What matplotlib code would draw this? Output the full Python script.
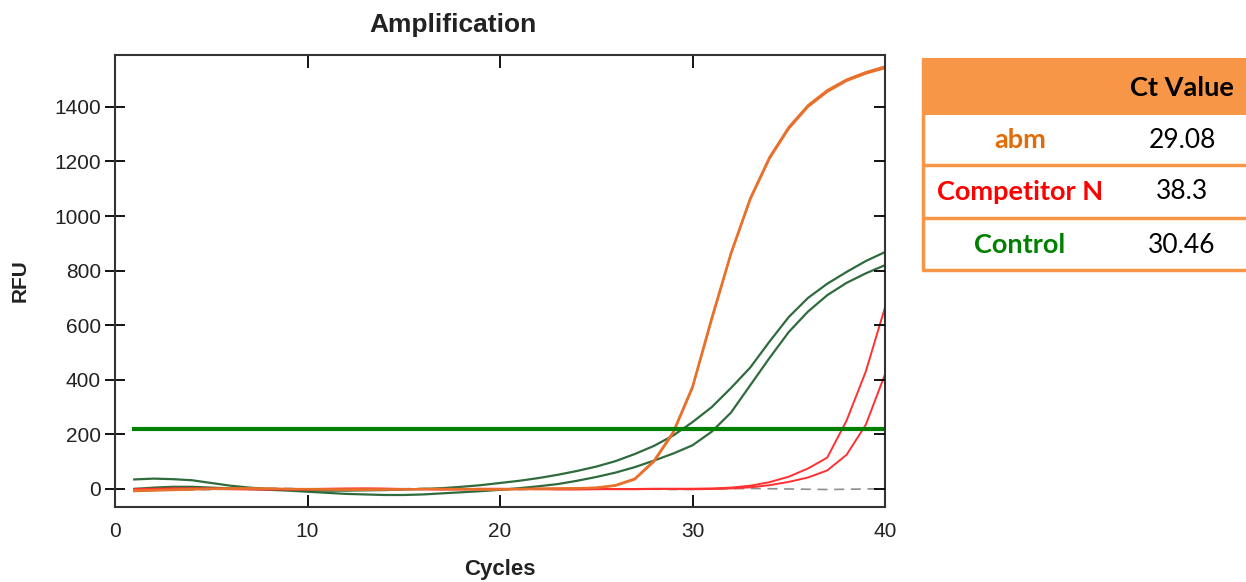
import matplotlib
matplotlib.use('Agg')
import matplotlib.pyplot as plt
from matplotlib.patches import Rectangle
from matplotlib.lines import Line2D

W, H = 1246, 582

cycles = list(range(1, 41))

abm_1 = [-8, -6, -4, -2, 0, 1, 2, 1, 0, -1, -2, -3, -3, -2, -1, 0, 0, -1, -2, -2,
         -1, 0, 1, 2, 4, 12, 35, 100, 205, 370, 620, 860, 1060, 1210, 1320, 1400, 1455, 1495, 1522, 1542]
abm_2 = [-5, -4, -2, 0, 1, 2, 2, 1, 0, 0, -1, -2, -2, -2, -1, 0, 0, 0, -1, -1,
         0, 1, 2, 3, 5, 14, 38, 104, 210, 376, 628, 866, 1066, 1216, 1326, 1406, 1461, 1500, 1527, 1548]
comp_1 = [-3, -1, 1, 2, 2, 1, 0, -1, -2, -2, -1, 0, 1, 1, 0, -1, -2, -2, -1, 0,
          0, 1, 1, 0, 0, -1, -1, 0, 1, 1, 2, 5, 12, 25, 45, 75, 115, 250, 430, 665]
comp_2 = [0, 1, 2, 1, 0, -1, -2, -2, -1, 0, 1, 2, 2, 1, 0, -1, -1, 0, 1, 1,
          0, -1, -2, -2, -1, 0, 0, 1, 0, -1, 0, 2, 6, 14, 26, 42, 68, 125, 235, 420]
ctrl_1 = [35, 38, 36, 32, 22, 12, 5, 0, -3, -5, -6, -6, -5, -4, -2, 0, 3, 8, 14, 22,
          30, 40, 52, 66, 82, 102, 128, 158, 196, 245, 300, 370, 445, 540, 630, 700, 752, 795, 835, 868]
ctrl_2 = [0, 5, 8, 8, 5, 2, 0, -3, -6, -10, -14, -18, -20, -22, -22, -20, -16, -12, -8, -3,
          3, 10, 18, 30, 44, 60, 80, 104, 130, 160, 210, 280, 380, 480, 575, 650, 710, 755, 790, 820]
ntc = [2, 0, -2, -3, -2, 0, 2, 3, 2, 0, -2, -3, -2, 0, 1, 2, 1, 0, -1, -2,
       -2, -1, 0, 1, 2, 1, 0, -1, -2, -1, 0, 1, 2, 1, 0, -1, -2, -1, 0, 1]
threshold = 220

table_names = ['abm', 'Competitor N', 'Control']
table_ct = ['29.08', '38.3', '30.46']
table_colors = ['#E36C0A', '#FF0000', '#008000']

plt.rcParams['font.family'] = ['Liberation Sans', 'DejaVu Sans']

fig = plt.figure(figsize=(W / 100, H / 100), dpi=100)
ax = fig.add_axes([115 / W, 1 - 507 / H, 770 / W, 452 / H])

ax.plot(cycles, ntc, color='#444444', lw=1.2, alpha=0.6, dashes=(6, 4))
ax.plot(cycles, ctrl_1, color='#2F6B3C', lw=1.6)
ax.plot(cycles, ctrl_2, color='#2F6B3C', lw=1.6)
ax.plot(cycles, comp_1, color='#FF3030', lw=1.4)
ax.plot(cycles, comp_2, color='#FF3030', lw=1.4)
ax.plot(cycles, abm_1, color='#E8702A', lw=1.6)
ax.plot(cycles, abm_2, color='#E8702A', lw=1.6)
ax.plot([1, 40], [threshold, threshold], color='#008000', lw=3)

ax.set_xlim(0, 40)
ax.set_ylim(-66, 1590)
ax.set_xticks([0, 10, 20, 30, 40])
ax.set_yticks(range(0, 1401, 200))
ax.tick_params(axis='x', direction='in', length=9, width=1.3, pad=11,
               labelsize=15, labelcolor='#222222', top=True)
ax.tick_params(axis='y', direction='inout', length=14, width=1.3, pad=3,
               labelsize=15, labelcolor='#222222')
for s in ax.spines.values():
    s.set_color('#333333')
    s.set_linewidth(1.5)

# right side ticks point inward only
ax2 = ax.twinx()
ax2.set_ylim(ax.get_ylim())
ax2.set_yticks(range(0, 1401, 200))
ax2.tick_params(axis='y', direction='in', length=8, width=1.3, labelright=False)
for s in ax2.spines.values():
    s.set_visible(False)

fig.text(453 / W, 1 - 25 / H, 'Amplification', ha='center', va='center',
         fontsize=19, fontweight='bold', color='#222222')
fig.text(500 / W, 1 - 570 / H, 'Cycles', ha='center', va='center',
         fontsize=16, fontweight='bold', color='#222222')
fig.text(20 / W, 1 - 281 / H, 'RFU', ha='center', va='center', rotation=90,
         fontsize=15, fontweight='bold', color='#222222')

# Ct value table
orange = '#F79646'
def fx(px):
    return px / W
def fy(py):
    return 1 - py / H

fig.patches.append(Rectangle((fx(922), fy(115)), fx(1246) - fx(922), fy(58) - fy(115),
                             transform=fig.transFigure, facecolor=orange, edgecolor='none'))
fig.lines.append(Line2D([fx(923), fx(923)], [fy(58), fy(271)], transform=fig.transFigure,
                        color=orange, lw=2.5, solid_capstyle='butt'))
for yy in [165, 218, 270]:
    fig.lines.append(Line2D([fx(922), fx(1246)], [fy(yy), fy(yy)], transform=fig.transFigure,
                            color=orange, lw=2.5, solid_capstyle='butt'))

tfont = ['Lato', 'DejaVu Sans']
fig.text(fx(1182), fy(88), 'Ct Value', ha='center', va='center', fontsize=19.5,
         fontweight='bold', color='black', family=tfont)
row_y = [140, 192, 245]
for name, ct, c, yy in zip(table_names, table_ct, table_colors, row_y):
    fig.text(fx(1020), fy(yy), name, ha='center', va='center', fontsize=19.5,
             fontweight='bold', color=c, family=tfont)
    fig.text(fx(1182), fy(yy), ct, ha='center', va='center', fontsize=19,
             color='black', family=tfont)

fig.savefig('out.png', dpi=100)
